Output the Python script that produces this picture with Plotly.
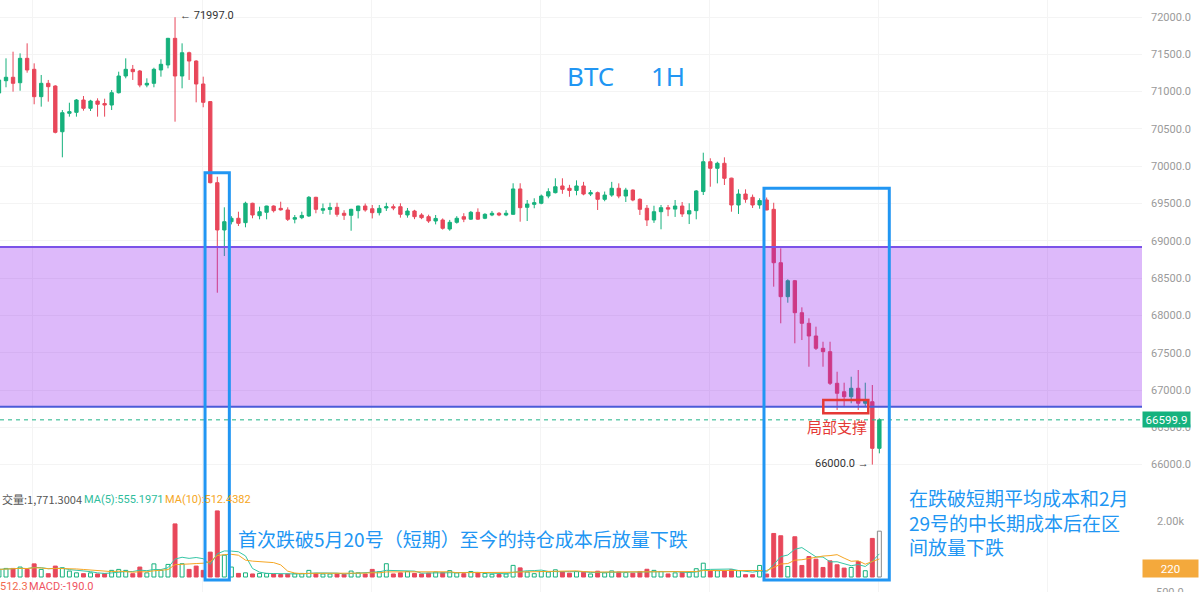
import plotly.graph_objects as go
import pandas as pd

# ---------------- data (1H candles) ----------------
candle_index = list(range(-1, 125))

opens = [70981, 71146, 71192, 71119, 71446, 71299, 70932, 71111, 71075, 70462,
         70709, 70722, 70887, 70776, 70874, 70840, 70820, 70985, 71209, 71299,
         71276, 71088, 71111, 71290, 71357, 71714, 71209, 71521, 71410, 71102,
         70866, 69779, 69145, 69256, 69302, 69243, 69503, 69336, 69382, 69466,
         69435, 69413, 69290, 69310, 69333, 69583, 69410, 69420, 69449, 69369,
         69342, 69404, 69466, 69430, 69377, 69440, 69457, 69457, 69346, 69399,
         69346, 69323, 69265, 69279, 69158, 69248, 69323, 69290, 69382, 69302,
         69346, 69369, 69346, 69355, 69695, 69449, 69489, 69503, 69600, 69645,
         69735, 69704, 69675, 69735, 69627, 69645, 69556, 69613, 69704, 69600,
         69680, 69556, 69436, 69279, 69390, 69444, 69425, 69466, 69360, 69404,
         69660, 70060, 69972, 70039, 69840, 69480, 69627, 69583, 69480, 69547,
         69422, 68706, 68251, 68465, 68036, 67894, 67724, 67559, 67514, 67090,
         66977, 66910, 67023, 66822, 66843, 66218]
highs = [71180, 71446, 71535, 71513, 71647, 71379, 71223, 71156, 71085, 70753,
         70851, 70900, 70941, 70890, 70910, 70905, 71021, 71267, 71446, 71357,
         71290, 71178, 71320, 71433, 71720, 71997, 71647, 71535, 71420, 71200,
         70870, 69859, 69449, 69330, 69390, 69524, 69510, 69457, 69470, 69475,
         69524, 69449, 69346, 69390, 69600, 69590, 69500, 69510, 69510, 69410,
         69430, 69470, 69500, 69480, 69480, 69510, 69490, 69503, 69440, 69415,
         69370, 69350, 69346, 69300, 69280, 69330, 69370, 69400, 69435, 69370,
         69400, 69385, 69410, 69771, 69771, 69547, 69570, 69620, 69704, 69838,
         69838, 69750, 69810, 69790, 69680, 69660, 69660, 69790, 69770, 69710,
         69690, 69570, 69480, 69470, 69480, 69480, 69547, 69520, 69503, 69680,
         70181, 70106, 70060, 70119, 69845, 69690, 69690, 69620, 69570, 69580,
         69510, 68899, 68484, 68475, 68108, 67961, 67849, 67647, 67647, 67245,
         67098, 67178, 67268, 67098, 67067, 66620]
lows = [70960, 71058, 70999, 71012, 71253, 70830, 70798, 70865, 70440, 70119,
        70664, 70664, 70744, 70740, 70664, 70664, 70753, 70975, 71178, 71156,
        71058, 71058, 71058, 71200, 71312, 70597, 71044, 71156, 70856, 70790,
        69770, 68304, 68796, 69220, 69198, 69181, 69302, 69288, 69288, 69380,
        69404, 69265, 69234, 69290, 69320, 69369, 69360, 69350, 69323, 69280,
        69135, 69300, 69390, 69300, 69340, 69400, 69410, 69310, 69310, 69290,
        69290, 69240, 69220, 69150, 69135, 69230, 69250, 69280, 69280, 69290,
        69330, 69330, 69330, 69350, 69256, 69265, 69436, 69490, 69570, 69635,
        69630, 69590, 69610, 69610, 69600, 69413, 69530, 69590, 69570, 69520,
        69530, 69346, 69198, 69240, 69154, 69330, 69320, 69320, 69225, 69288,
        69614, 69725, 69770, 69748, 69390, 69360, 69510, 69440, 69430, 69410,
        68385, 67894, 68170, 67626, 67670, 67312, 67536, 67312, 67067, 66732,
        66776, 66822, 66732, 66776, 66000, 66151]
closes = [71155, 71192, 71111, 71446, 71290, 70932, 71111, 71066, 70454, 70717,
          70731, 70887, 70776, 70874, 70830, 70820, 70985, 71209, 71299, 71267,
          71088, 71111, 71299, 71366, 71714, 71209, 71521, 71410, 71102, 70856,
          69779, 69145, 69256, 69302, 69234, 69503, 69346, 69390, 69466, 69404,
          69415, 69288, 69310, 69340, 69583, 69422, 69430, 69445, 69355, 69342,
          69422, 69466, 69413, 69377, 69435, 69457, 69440, 69355, 69399, 69323,
          69310, 69265, 69300, 69168, 69248, 69302, 69290, 69382, 69290, 69355,
          69369, 69346, 69369, 69695, 69444, 69493, 69511, 69600, 69658, 69725,
          69690, 69675, 69735, 69627, 69645, 69556, 69613, 69704, 69600, 69680,
          69547, 69422, 69279, 69390, 69444, 69425, 69466, 69360, 69404, 69668,
          70060, 69972, 70039, 69838, 69480, 69627, 69556, 69480, 69540, 69413,
          68706, 68251, 68465, 68036, 67894, 67724, 67559, 67514, 67090, 66956,
          66910, 67023, 66822, 66870, 66218, 66599.9]
volumes = [275, 310, 310, 360, 275, 475, 275, 120, 395, 335,
           215, 150, 120, 150, 110, 120, 240, 275, 240, 120,
           360, 150, 475, 240, 455, 1920, 480, 275, 395, 240,
           900, 2390, 790, 360, 130, 150, 110, 130, 130, 110,
           90, 110, 120, 130, 240, 130, 110, 110, 110, 95,
           215, 150, 110, 275, 190, 480, 110, 150, 200, 130,
           110, 140, 180, 160, 230, 150, 120, 200, 150, 130,
           100, 90, 110, 420, 330, 180, 120, 200, 180, 260,
           190, 140, 200, 170, 110, 210, 150, 220, 180, 160,
           140, 200, 280, 240, 200, 110, 150, 170, 180, 300,
           500, 227, 227, 227, 262, 227, 84, 84, 418, 107,
           1575, 1492, 382, 1456, 418, 740, 644, 346, 585, 442,
           322, 346, 561, 227, 1396, 1658]

price_ticks = [66000, 66500, 67000, 67500, 68000, 68500, 69000,
               69500, 70000, 70500, 71000, 71500, 72000]
last_price = 66599.9
session_high = 71997.0
session_low = 66000.0
zone_top = 68917
zone_bottom = 66776
support_top = 66866
support_bottom = 66688

# ---------------- styling ----------------
GREEN = "#16B17C"
RED = "#E8475A"
BLUE = "#2196F3"
W, H = 1200, 592
PLOT_R = 1142  # pixel width of the plot area


def px_x(x):
    return x / PLOT_R


def px_y(y):
    return 1 - y / H


vol_s = pd.Series(volumes, dtype=float)
ma5 = vol_s.rolling(5, min_periods=1).mean()
ma10 = vol_s.rolling(10, min_periods=1).mean()

is_up = [c >= o for o, c in zip(opens, closes)]
bar_fill = ["rgba(255,255,255,0)" if u else RED for u in is_up]
bar_line = [GREEN if u else RED for u in is_up]
bar_line[-1] = "#8a8a8a"

fig = go.Figure()
fig.add_trace(go.Candlestick(
    x=candle_index, open=opens, high=highs, low=lows, close=closes,
    increasing=dict(line=dict(color=GREEN, width=1), fillcolor=GREEN),
    decreasing=dict(line=dict(color=RED, width=1), fillcolor=RED),
    whiskerwidth=0, hoverinfo="skip", showlegend=False,
))
fig.add_trace(go.Bar(
    x=candle_index, y=volumes, yaxis="y2", width=0.56,
    marker=dict(color=bar_fill, line=dict(color=bar_line, width=1)),
    hoverinfo="skip", showlegend=False,
))
fig.add_trace(go.Scatter(x=candle_index, y=ma5, yaxis="y2", mode="lines",
                         line=dict(color="#35C6A6", width=1), hoverinfo="skip",
                         showlegend=False))
fig.add_trace(go.Scatter(x=candle_index, y=ma10, yaxis="y2", mode="lines",
                         line=dict(color="#F5A623", width=1), hoverinfo="skip",
                         showlegend=False))

shapes = [
    # purple cost zone (semi transparent, above candles)
    dict(type="rect", xref="paper", yref="y", x0=0, x1=1, y0=zone_bottom, y1=zone_top,
         fillcolor="rgba(142,22,238,0.30)", line=dict(width=0), layer="above"),
    dict(type="line", xref="paper", yref="y", x0=0, x1=1, y0=zone_top, y1=zone_top,
         line=dict(color="#7B52E8", width=2), layer="above"),
    dict(type="line", xref="paper", yref="y", x0=0, x1=1, y0=zone_bottom, y1=zone_bottom,
         line=dict(color="#4B5BD8", width=2), layer="above"),
    # last price dashed line
    dict(type="line", xref="paper", yref="y", x0=0, x1=1, y0=last_price, y1=last_price,
         line=dict(color="#1DB386", width=1, dash="4px,4px"), layer="above"),
    # blue highlight boxes
    dict(type="rect", xref="x", yref="paper", x0=28.26, x1=31.71,
         y0=px_y(580), y1=px_y(172.7), line=dict(color=BLUE, width=3), layer="above"),
    dict(type="rect", xref="x", yref="paper", x0=107.62, x1=125.41,
         y0=px_y(580), y1=px_y(188.3), line=dict(color=BLUE, width=3), layer="above"),
    # local support box
    dict(type="rect", xref="x", yref="y", x0=116.04, x1=122.43,
         y0=support_bottom, y1=support_top, line=dict(color="#E53935", width=2.5),
         layer="above"),
]

CJK = "Noto Sans CJK SC"
annotations = [
    dict(text="BTC", x=px_x(590), y=px_y(76), font=dict(size=26, color=BLUE, family="Noto Sans")),
    dict(text="1H", x=px_x(668), y=px_y(76), font=dict(size=26, color=BLUE, family="Noto Sans")),
    dict(text="首次跌破5月20号（短期）至今的持仓成本后放量下跌", x=px_x(236), y=px_y(538),
         xanchor="left", font=dict(size=19, color=BLUE, family=CJK)),
    dict(text="在跌破短期平均成本和2月<br>29号的中长期成本后在区<br>间放量下跌",
         x=px_x(907), y=px_y(521.7), xanchor="left", align="left",
         font=dict(size=19, color=BLUE, family=CJK)),
    dict(text="局部支撑", x=px_x(836.7), y=px_y(426.7),
         font=dict(size=15, color="#E53935", family=CJK)),
    dict(text="← " + f"{session_high:.1f}", x=px_x(178), y=px_y(16), xanchor="left",
         font=dict(size=11, color="#333333", family="Roboto")),
    dict(text=f"{session_low:.1f}" + " →", x=px_x(871), y=px_y(463.3), xanchor="right",
         font=dict(size=11, color="#333333", family="Roboto")),
    # volume pane header
    dict(text="交量:1,771.3004", x=px_x(0), y=px_y(499), xanchor="left",
         font=dict(size=11, color="#555555", family=CJK)),
    dict(text="MA(5):555.1971", x=px_x(82), y=px_y(499), xanchor="left",
         font=dict(size=11, color="#2EBD9C", family="Roboto")),
    dict(text="MA(10):512.4382", x=px_x(163), y=px_y(499), xanchor="left",
         font=dict(size=11, color="#F5A623", family="Roboto")),
    # MACD header (cut)
    dict(text="512.3", x=px_x(-2), y=px_y(586), xanchor="left",
         font=dict(size=11, color="#F26A4F", family="Roboto")),
    dict(text="MACD:-190.0", x=px_x(27), y=px_y(586), xanchor="left",
         font=dict(size=11, color="#EF5261", family="Roboto")),
    # right-side pane labels
    dict(text="2.00k", x=px_x(1170), y=px_y(521.7),
         font=dict(size=11, color="#9A9A9A", family="Roboto")),
    dict(text="500.0", x=px_x(1170), y=px_y(592),
         font=dict(size=11, color="#9A9A9A", family="Roboto")),
    # price badges
    dict(text=f"{last_price:.1f}", x=px_x(1166), y=last_price, yref="y",
         width=47, height=15, bgcolor="#15B27E", borderpad=0,
         font=dict(size=11.5, color="white", family="Roboto")),
    dict(text="220", x=px_x(1170.4), y=px_y(568.3), width=55, height=17,
         bgcolor="#F4A93C", borderpad=0,
         font=dict(size=11.5, color="white", family="Roboto")),
]
for a in annotations:
    a.setdefault("xref", "paper")
    a.setdefault("yref", "paper")
    a.setdefault("showarrow", False)
    a.setdefault("xanchor", "center")
    a.setdefault("yanchor", "middle")

fig.update_layout(
    width=W, height=H, autosize=False,
    margin=dict(l=0, r=W - PLOT_R, t=0, b=0, pad=0, autoexpand=False),
    paper_bgcolor="white", plot_bgcolor="white",
    showlegend=False, boxgap=0.32,
    xaxis=dict(range=[-0.852, 161.29], showticklabels=False, showgrid=True,
               gridcolor="#F4F4F4", gridwidth=1, tick0=3.83, dtick=24,
               zeroline=False, showline=False, rangeslider=dict(visible=False),
               fixedrange=True, automargin=False),
    yaxis=dict(range=[64292.2, 72227.9], side="right", tickvals=price_ticks,
               tickformat=".1f", showgrid=True, gridcolor="#F4F4F4",
               zeroline=False, showline=False, ticks="", ticklabelstandoff=8,
               tickfont=dict(size=11, color="#9A9A9A", family="Roboto"),
               fixedrange=True, automargin=False),
    yaxis2=dict(range=[-542.5, 20870], overlaying="y", side="right",
                showticklabels=False, showgrid=False, zeroline=False,
                showline=False, fixedrange=True, automargin=False),
    shapes=shapes, annotations=annotations,
)

fig.write_html(
    "out.html",
    config={"displayModeBar": False},
    post_script="document.body.style.margin='0px';document.body.style.overflow='hidden';",
)
